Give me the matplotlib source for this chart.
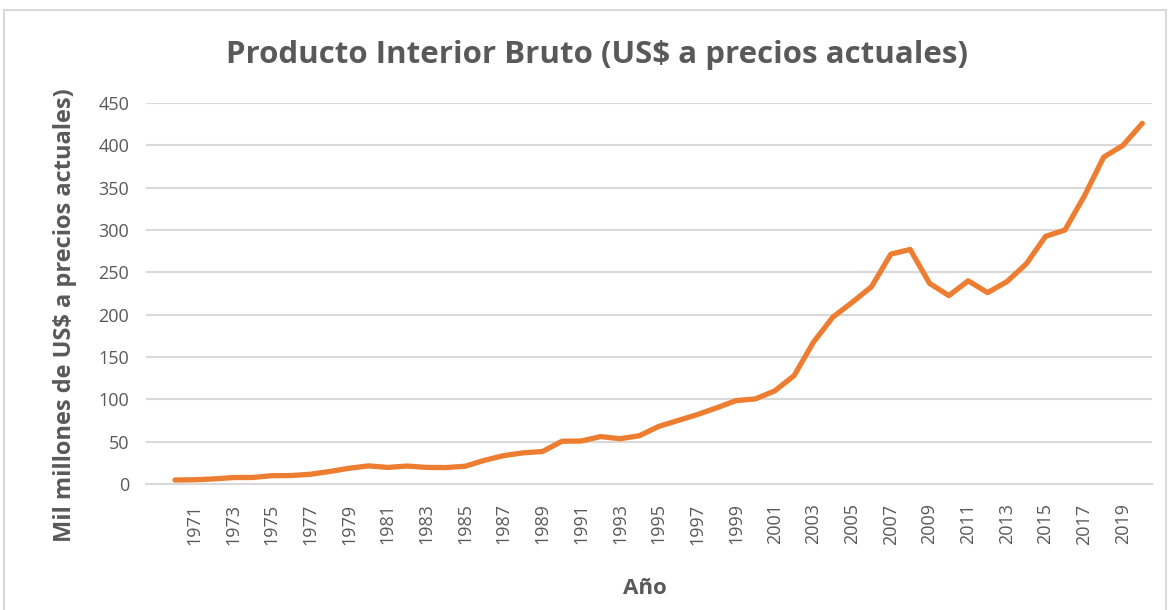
"""Producto Interior Bruto, US$ a precios actuales (1970-2020)."""

import matplotlib.pyplot as plt
from matplotlib.patches import Rectangle

YEARS = list(range(1970, 2021))
GDP_BN = [
    4.7, 5.0, 6.0, 7.6, 7.7, 9.8, 10.0, 11.5, 14.8, 18.6,
    21.4, 19.6, 21.2, 19.6, 19.4, 21.0, 28.0, 33.6, 36.8, 38.4,
    50.5, 50.8, 56.0, 53.5, 57.0, 68.0, 75.0, 82.0, 90.0, 98.5,
    100.5, 110.0, 128.0, 167.5, 197.0, 214.5, 233.0, 271.5, 277.0, 237.0,
    222.5, 240.0, 226.0, 239.0, 260.0, 292.5, 300.0, 340.0, 386.0, 400.0,
    426.0,
]
TICK_YEARS = list(range(1971, 2020, 2))
Y_TICKS = list(range(0, 451, 50))

TITLE = "Producto Interior Bruto (US$ a precios actuales)"
Y_LABEL = "Mil millones de US$ a precios actuales)"
X_LABEL = "Año"

TEXT_GRAY = "#595959"
GRID_GRAY = "#D9D9D9"
LINE_ORANGE = "#ED7D31"

plt.rcParams["font.family"] = ["Open Sans", "DejaVu Sans"]

fig = plt.figure(figsize=(11.69, 6.10), dpi=100)
W, H = 1169, 610
# plot area in pixels: left 146, right 1152, top 103, bottom 484
ax = fig.add_axes([146 / W, 1 - 484 / H, (1152 - 146) / W, (484 - 103) / H])

# outer chart border
fig.add_artist(Rectangle((4 / W, -0.05), (1166 - 4) / W, 1.05 - 10 / H,
                         transform=fig.transFigure, fill=False,
                         edgecolor=GRID_GRAY, linewidth=1.5))

ax.plot(YEARS, GDP_BN, color=LINE_ORANGE, linewidth=3.8,
        solid_joinstyle="round", solid_capstyle="round", zorder=3)

ax.set_xlim(1968.5, 2020.5)
ax.set_ylim(0, 450)
ax.set_yticks(Y_TICKS)
ax.set_xticks(TICK_YEARS)
ax.set_xticklabels([str(y) for y in TICK_YEARS], rotation=90)
ax.tick_params(axis="both", length=0, colors=TEXT_GRAY, labelsize=13)
ax.tick_params(axis="x", pad=14)
ax.tick_params(axis="y", pad=12)

ax.grid(axis="y", color=GRID_GRAY, linewidth=1.5)
ax.set_axisbelow(True)
for side in ("top", "right", "left"):
    ax.spines[side].set_visible(False)
ax.spines["bottom"].set_color(GRID_GRAY)
ax.spines["bottom"].set_linewidth(1.5)

fig.text(597 / W, 1 - 55 / H, TITLE, ha="center", va="center",
         fontsize=22.5, fontweight="bold", color=TEXT_GRAY)
fig.text(65 / W, 1 - 315 / H, Y_LABEL, ha="center", va="center",
         rotation=90, fontsize=17, fontweight="bold", color=TEXT_GRAY)
fig.text(645 / W, 1 - 588 / H, X_LABEL, ha="center", va="center",
         fontsize=16, fontweight="bold", color=TEXT_GRAY)

fig.savefig("out.png", dpi=100, facecolor="white")
